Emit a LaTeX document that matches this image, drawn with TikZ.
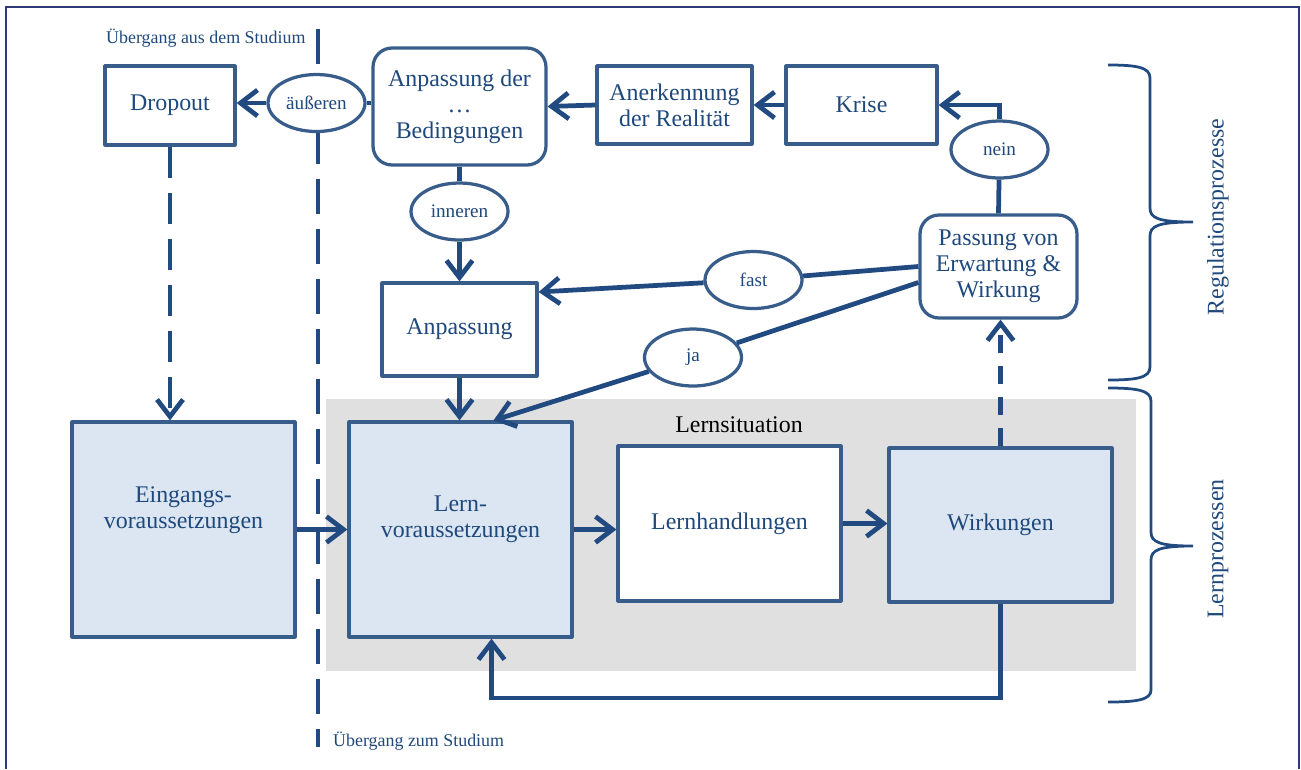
\documentclass[tikz,border=0pt]{standalone}
\usepackage{fontspec}
\setmainfont{Liberation Serif}
\usetikzlibrary{arrows.meta,shapes.geometric}

\definecolor{textblue}{RGB}{31,73,125}
\definecolor{lineblue}{RGB}{33,74,128}
\definecolor{boxline}{RGB}{56,93,138}
\definecolor{boxfill}{RGB}{220,230,242}
\definecolor{situgray}{RGB}{224,224,224}
\definecolor{framecol}{RGB}{46,58,120}

\tikzset{
    txt/.style = {text=textblue, align=center, font=\fontsize{13.6}{14.8}\selectfont},
    small/.style = {text=textblue, font=\fontsize{10.9}{12}\selectfont},
    tiny/.style = {text=textblue, font=\fontsize{10.2}{12}\selectfont},
    box/.style = {txt, draw=boxline, line width=0.065cm, line join=round, fill=white, inner sep=0pt},
    bluebox/.style = {box, fill=boxfill},
    roundbox/.style = {box, rounded corners=0.38cm},
    oval/.style = {ellipse, small, draw=boxline, line width=0.065cm, fill=white, inner sep=0pt,
        minimum width=1.94cm, minimum height=1.14cm},
    conn/.style = {draw=lineblue, line width=0.095cm},
    arr/.style = {conn, -{Straight Barb[length=0.34cm,width=0.52cm]}},
    brace/.style = {draw=lineblue, line width=0.055cm}
}

\begin{document}
\begin{tikzpicture}[x=0.02cm, y=-0.02cm]
    \useasboundingbox (0,0) rectangle (1301,769);
    % frame
    \draw [framecol, line width=0.04cm] (6,769) -- (6,7) -- (1299,7) -- (1299,769);
    % Lernsituation
    \fill [situgray] (326,399) rectangle (1136,671);
    \node [font=\fontsize{13.6}{14.8}\selectfont] (situ) at (739,425) {Lernsituation};
    % transition line
    \draw [lineblue, line width=0.075cm, dash pattern=on 0.7cm off 0.3cm] (318,29) -- (318,747);
    \node [tiny, anchor=west] (ausstud) at (100,38) {Übergang aus dem Studium};
    \node [tiny, anchor=west] (zumstud) at (327,741) {Übergang zum Studium};

    % boxes
    \node [box, minimum width=2.6cm, minimum height=1.58cm] (drop) at (170,105.5) {Dropout};
    \node [roundbox, minimum width=3.46cm, minimum height=2.34cm] (abed) at (459.5,106.5)
        {Anpassung der\\\dots\\Bedingungen};
    \node [box, minimum width=3.1cm, minimum height=1.56cm] (anerk) at (674.5,105)
        {Anerkennung\\der Realität};
    \node [box, minimum width=3.02cm, minimum height=1.56cm] (krise) at (861.5,105) {Krise};
    \node [roundbox, minimum width=3.14cm, minimum height=2.06cm] (pass) at (998.5,266.5)
        {Passung von\\Erwartung \&\\Wirkung};
    \node [box, minimum width=3.1cm, minimum height=1.86cm] (anp) at (459.5,329.5) {Anpassung};
    \node [bluebox, minimum width=4.46cm, minimum height=4.3cm] (ev) at (183.5,529.5) {};
    \node [txt] (evtext) at (183.5,510) {Eingangs-\\voraussetzungen};
    \node [bluebox, minimum width=4.46cm, minimum height=4.3cm] (lv) at (460.5,529.5) {};
    \node [txt] (lvtext) at (460.5,519) {Lern-\\voraussetzungen};
    \node [box, minimum width=4.46cm, minimum height=3.1cm] (lh) at (729.5,523.5) {Lernhandlungen};
    \node [bluebox, minimum width=4.46cm, minimum height=3.08cm] (wk) at (1000.5,525) {Wirkungen};

    % ovals
    \node [oval] (aus) at (316.5,103) {äußeren};
    \node [oval] (inn) at (459.5,211.5) {inneren};
    \node [oval] (nein) at (999.5,149.5) {nein};
    \node [oval] (fast) at (753.5,280) {fast};
    \node [oval] (ja) at (693,357.5) {ja};

    % connectors
    \draw [arr] (krise.west) -- (anerk.east);
    \draw [arr] (anerk.west) -- (abed.east);
    \draw [conn] (abed.west |- aus) -- (aus);
    \draw [arr] (aus) -- (drop.east |- aus);
    \draw [conn] (abed) -- (inn);
    \draw [arr] (inn) -- (anp);
    \draw [arr] (anp.south) -- (anp.south |- lv.north);
    \draw [arr, dash pattern=on 0.62cm off 0.3cm] (drop.south) -- (drop.south |- ev.north);
    \draw [conn] (pass.north) -- (nein);
    \draw [arr] (nein) |- (krise.east);
    \draw [conn] (pass.west) -- (fast);
    \draw [arr] (fast) -- ([yshift=0.75cm]anp.east);
    \draw [conn] ([yshift=-0.32cm]pass.west) -- (ja);
    \draw [arr] (ja) -- ([xshift=0.66cm]lv.north);
    \draw [arr] (ev.east) -- (lv.west);
    \draw [arr] (lv.east) -- (lv.east -| lh.west);
    \draw [arr] (lh.east) -- (lh.east -| wk.west);
    \draw [arr, dash pattern=on 0.36cm off 0.26cm] (wk.north) -- (wk.north |- pass.south);
    \coordinate (back) at (1000.5,698);
    \draw [arr] (wk.south) -- (back) -| ([xshift=0.62cm]lv.south);

    % braces
    \draw [brace] (1108,65) .. controls (1136,65) and (1150,67) .. (1150,78) -- (1150,208)
        .. controls (1150,218) and (1158,222) .. (1193,222)
        .. controls (1158,222) and (1150,226) .. (1150,236) -- (1150,367)
        .. controls (1150,378) and (1136,380) .. (1108,380);
    \draw [brace] (1108,388) .. controls (1136,388) and (1151,390) .. (1151,401) -- (1151,532)
        .. controls (1151,542) and (1159,546) .. (1193,546)
        .. controls (1159,546) and (1151,550) .. (1151,560) -- (1151,690)
        .. controls (1151,700) and (1136,702) .. (1108,702);
    \node [txt, rotate=90] (regul) at (1218,217) {Regulationsprozesse};
    \node [txt, rotate=90] (lernp) at (1218,549) {Lernprozessen};
\end{tikzpicture}
\end{document}
